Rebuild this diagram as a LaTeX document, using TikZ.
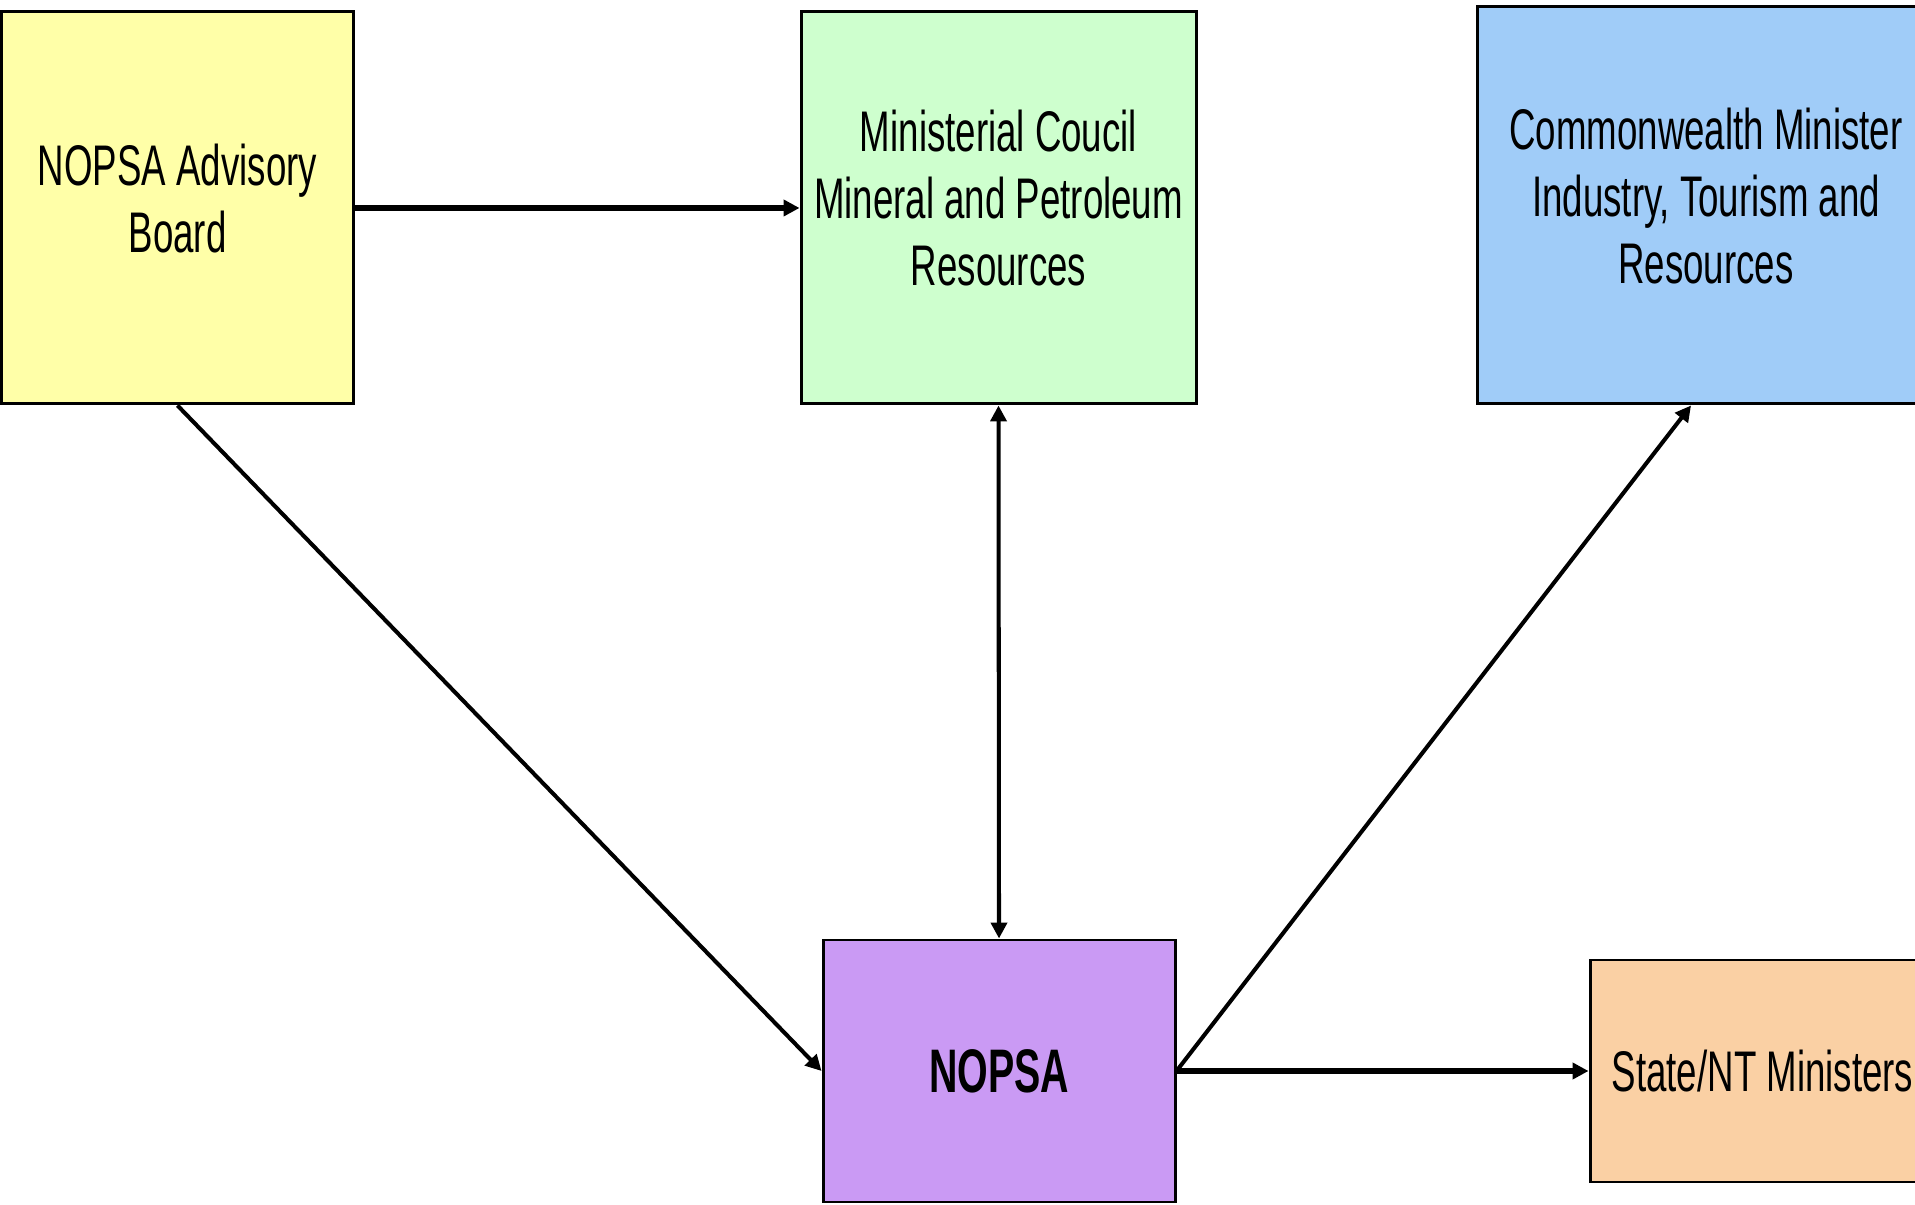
\documentclass[tikz,border=0pt]{standalone}
\usepackage{fontspec}
\setmainfont{Liberation Sans}
\newfontfamily\boxfont[FakeStretch=0.64]{Liberation Sans}
\usetikzlibrary{calc, arrows, positioning}
\usetikzlibrary{arrows.meta}

\begin{document}
\begin{tikzpicture}[
    box/.style={draw, line width=0.85pt, align=center, inner sep=0pt,
        font=\boxfont\fontsize{16.3}{19}\selectfont},
    link/.style={line width=1.15pt, -{Triangle[length=4.5pt,width=4.5pt]}},
    heavy/.style={line width=1.5pt, -{Triangle[length=4.5pt,width=4.5pt]}}
    ]
        \useasboundingbox (0,0) rectangle (19.15,12.04);
        %\draw (0,0) rectangle (19.15,12.04);

        \node [box, fill={rgb,255:red,255;green,255;blue,168}, minimum width=3.52cm, minimum height=3.92cm, text depth=0.2cm]
            (board) at (1.775,9.96) {NOPSA Advisory\\Board};
        \node [box, fill={rgb,255:red,206;green,255;blue,206}, minimum width=3.95cm, minimum height=3.92cm, text depth=0.2cm]
            (council) at (9.985,9.96) {Ministerial Coucil\\Mineral and Petroleum\\Resources};
        \node [box, fill={rgb,255:red,160;green,204;blue,248}, minimum width=4.58cm, minimum height=3.97cm, text depth=0.2cm]
            (cwm) at (17.06,9.985) {Commonwealth Minister\\Industry, Tourism and\\Resources};
        \node [box, fill={rgb,255:red,202;green,154;blue,244}, minimum width=3.52cm, minimum height=2.62cm,
            font=\boxfont\fontsize{17.5}{20}\selectfont\bfseries]
            (nopsa) at (9.99,1.33) {NOPSA};
        \node [box, fill={rgb,255:red,250;green,208;blue,164}, minimum width=3.45cm, minimum height=2.22cm]
            (states) at (17.625,1.33) {State/NT Ministers};

        \draw [heavy] (board.east) -- (council.west);
        \draw [link] (board.south) -- (nopsa.west);
        \draw [link, {Triangle[length=4.5pt,width=4.5pt]}-{Triangle[length=4.5pt,width=4.5pt]}] (council.south) -- (nopsa.north);
        \draw [link] (nopsa.east) -- ($(cwm.south)+(-0.15,0)$);
        \draw [heavy] (nopsa.east) -- (states.west);
\end{tikzpicture}
\end{document}
